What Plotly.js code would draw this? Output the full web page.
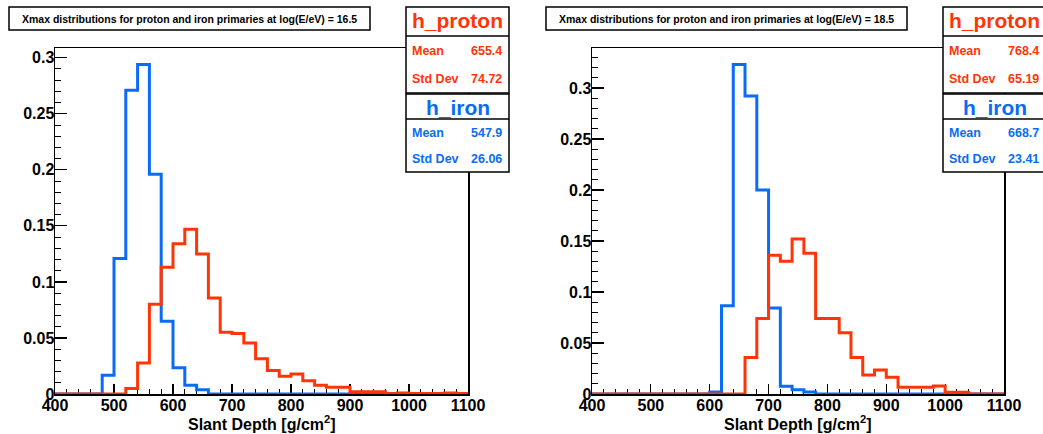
<!DOCTYPE html>
<html>
<head>
<meta charset="utf-8">
<script src="https://cdn.plot.ly/plotly-3.0.1.min.js"></script>
<style>
  html, body { margin: 0; padding: 0; background: #fff; }
  #plot { width: 1043px; height: 434px; }
</style>
</head>
<body>
<div id="plot"></div>
<script>
// Bin lower edges plus the final upper edge (g/cm^2), 20 g/cm^2 bins
const binEdges = [400, 420, 440, 460, 480, 500, 520, 540, 560, 580, 600, 620, 640, 660, 680, 700,
  720, 740, 760, 780, 800, 820, 840, 860, 880, 900, 920, 940, 960, 980, 1000, 1020, 1040, 1060, 1080, 1100];

// Normalised Xmax histograms, log(E/eV) = 16.5
const proton165 = [0, 0, 0, 0, 0, 0, 0.005, 0.0277, 0.080, 0.113, 0.134, 0.147, 0.125, 0.0856, 0.055,
  0.054, 0.0455, 0.0315, 0.021, 0.0158, 0.0178, 0.0119, 0.0077, 0.006, 0.006, 0.002, 0.002, 0.002,
  0.0005, 0.001, 0.0005, 0.0005, 0.0005, 0.001, 0.0005];
const iron165 = [0, 0, 0, 0, 0.0167, 0.121, 0.271, 0.294, 0.196, 0.065, 0.0235, 0.0077, 0.0039,
  0, 0, 0, 0, 0, 0, 0, 0, 0, 0, 0, 0, 0, 0, 0, 0, 0, 0, 0, 0, 0, 0];

// Normalised Xmax histograms, log(E/eV) = 18.5
const proton185 = [0, 0, 0, 0, 0, 0, 0, 0, 0, 0, 0, 0, 0, 0.0358, 0.074, 0.136, 0.130, 0.152, 0.138,
  0.074, 0.074, 0.060, 0.0358, 0.0186, 0.0235, 0.0163, 0.0066, 0.0066, 0.0066, 0.0078, 0.0017, 0.0017,
  0, 0, 0];
const iron185 = [0, 0, 0, 0, 0, 0, 0, 0, 0, 0, 0.002, 0.0866, 0.323, 0.292, 0.200, 0.0844, 0.0075,
  0.0042, 0.002, 0, 0, 0, 0, 0, 0, 0, 0, 0, 0, 0, 0, 0, 0, 0, 0];

// Statistics box entries
const energies = ['16.5', '18.5'];
const protonMean = ['655.4', '768.4'];
const protonStdDev = ['74.72', '65.19'];
const ironMean = ['547.9', '668.7'];
const ironStdDev = ['26.06', '23.41'];

const W = 1043, H = 434;
const px = x => x / W;
const py = y => 1 - y / H;

const RED = '#ff3508';
const BLUE = '#0a6cf5';
const FONT = 'Liberation Sans, Arial, Helvetica, sans-serif';

// Step-line trace for a histogram: one point per edge, last bin repeated to close the step
function histTrace(values, color, xa, ya) {
  return {
    type: 'scatter', mode: 'lines',
    x: binEdges,
    y: values.concat([values[values.length - 1]]),
    line: { shape: 'hv', color: color, width: 3 },
    xaxis: xa, yaxis: ya, hoverinfo: 'skip'
  };
}

const panels = [
  { x0: 55, x1: 468, box: [406, 509], proton: proton165, iron: iron165, title: [9, 370] },
  { x0: 592, x1: 1004, box: [943, 1046], proton: proton185, iron: iron185, title: [546, 907] }
];

const data = [];
const layout = {
  width: W, height: H,
  margin: { l: 0, r: 0, t: 0, b: 0 },
  paper_bgcolor: '#fff', plot_bgcolor: '#fff',
  showlegend: false,
  shapes: [], annotations: []
};

const tickFont = { family: FONT, size: 16, color: '#000', weight: 'bold' };

panels.forEach((p, i) => {
  const xa = i === 0 ? 'x' : 'x2';
  const ya = i === 0 ? 'y' : 'y2';
  const xk = i === 0 ? 'xaxis' : 'xaxis2';
  const yk = i === 0 ? 'yaxis' : 'yaxis2';

  data.push(histTrace(p.iron, BLUE, xa, ya));
  data.push(histTrace(p.proton, RED, xa, ya));

  const ymax = 1.05 * Math.max(...p.proton, ...p.iron);

  layout[xk] = {
    domain: [px(p.x0), px(p.x1)], anchor: ya,
    range: [400, 1100], tick0: 400, dtick: 100,
    showline: true, linecolor: '#000', linewidth: 1.5, mirror: true,
    ticks: 'inside', ticklen: 10, tickwidth: 1.2, tickcolor: '#000',
    minor: { ticks: 'inside', dtick: 20, ticklen: 5, tickwidth: 1, tickcolor: '#000', showgrid: false },
    showgrid: false, zeroline: false, layer: 'below traces',
    tickfont: tickFont, ticklabelstandoff: -4
  };
  layout[yk] = {
    domain: [py(394), py(48)], anchor: xa,
    range: [0, ymax], tick0: 0, dtick: 0.05,
    showline: true, linecolor: '#000', linewidth: 1.5, mirror: true,
    ticks: 'inside', ticklen: 12, tickwidth: 1.2, tickcolor: '#000',
    minor: { ticks: 'inside', dtick: 0.01, ticklen: 6, tickwidth: 1, tickcolor: '#000', showgrid: false },
    showgrid: false, zeroline: false, layer: 'below traces',
    tickfont: tickFont, ticklabelstandoff: -4
  };

  // Axis title
  layout.annotations.push({
    xref: 'paper', yref: 'paper', x: px((p.x0 + p.x1) / 2), y: py(423),
    xanchor: 'center', yanchor: 'middle', showarrow: false,
    text: 'Slant Depth [g/cm<sup>2</sup>]',
    font: { family: FONT, size: 16, color: '#000', weight: 'bold' }
  });

  // Title box
  layout.shapes.push({
    type: 'rect', xref: 'paper', yref: 'paper', layer: 'above',
    x0: px(p.title[0]), x1: px(p.title[1]), y0: py(30), y1: py(7),
    line: { color: '#000', width: 1.5 }, fillcolor: '#fff'
  });
  layout.annotations.push({
    xref: 'paper', yref: 'paper', x: px((p.title[0] + p.title[1]) / 2), y: py(18.5),
    xanchor: 'center', yanchor: 'middle', showarrow: false,
    text: 'Xmax distributions for proton and iron primaries at log(E/eV) = ' + energies[i],
    font: { family: FONT, size: 10.5, color: '#000', weight: 'bold' }
  });

  // Statistics boxes
  const bx0 = p.box[0], bx1 = p.box[1];
  [[7, 93], [94, 172]].forEach(([t, b]) => {
    layout.shapes.push({
      type: 'rect', xref: 'paper', yref: 'paper', layer: 'above',
      x0: px(bx0), x1: px(bx1), y0: py(b), y1: py(t),
      line: { color: '#000', width: 1.5 }, fillcolor: '#fff'
    });
  });
  [36, 119].forEach(yy => {
    layout.shapes.push({
      type: 'line', xref: 'paper', yref: 'paper', layer: 'above',
      x0: px(bx0), x1: px(bx1), y0: py(yy), y1: py(yy),
      line: { color: '#000', width: 1.5 }
    });
  });

  const cx = (bx0 + bx1) / 2;
  const head = (txt, y, color) => layout.annotations.push({
    xref: 'paper', yref: 'paper', x: px(cx), y: py(y),
    xanchor: 'center', yanchor: 'middle', showarrow: false, text: txt,
    font: { family: FONT, size: 21, color: color, weight: 'bold' }
  });
  const row = (label, value, y, color) => {
    layout.annotations.push({
      xref: 'paper', yref: 'paper', x: px(bx0 + 4), y: py(y),
      xanchor: 'left', yanchor: 'middle', showarrow: false, text: label,
      font: { family: FONT, size: 12.5, color: color, weight: 'bold' }
    });
    layout.annotations.push({
      xref: 'paper', yref: 'paper', x: px(bx1 - 5), y: py(y),
      xanchor: 'right', yanchor: 'middle', showarrow: false, text: value,
      font: { family: FONT, size: 12.5, color: color, weight: 'bold' }
    });
  };
  head('h_proton', 21, RED);
  row('Mean', protonMean[i], 51, RED);
  row('Std Dev', protonStdDev[i], 79, RED);
  head('h_iron', 107, BLUE);
  row('Mean', ironMean[i], 133, BLUE);
  row('Std Dev', ironStdDev[i], 159, BLUE);
});

Plotly.newPlot('plot', data, layout, { staticPlot: true, displayModeBar: false });
</script>
</body>
</html>
